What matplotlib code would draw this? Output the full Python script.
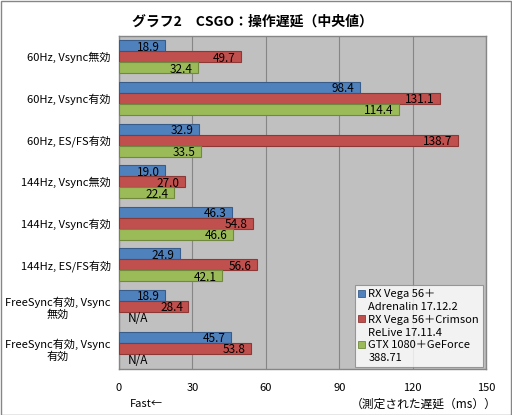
import numpy as np
import matplotlib
matplotlib.use("Agg")
import matplotlib.pyplot as plt
from matplotlib.patches import Patch, Rectangle

plt.rcParams['font.family'] = ['Noto Sans CJK JP', 'DejaVu Sans']

# データ
categories = ["60Hz, Vsync無効", "60Hz, Vsync有効", "60Hz, ES/FS有効",
              "144Hz, Vsync無効", "144Hz, Vsync有効", "144Hz, ES/FS有効",
              "FreeSync有効, Vsync\n無効", "FreeSync有効, Vsync\n有効"]
vega_adrenalin = [18.9, 98.4, 32.9, 19.0, 46.3, 24.9, 18.9, 45.7]
vega_crimson = [49.7, 131.1, 138.7, 27.0, 54.8, 56.6, 28.4, 53.8]
gtx1080 = [32.4, 114.4, 33.5, 22.4, 46.6, 42.1, None, None]
series_labels = [("RX Vega 56＋", "Adrenalin 17.12.2"),
                 ("RX Vega 56＋Crimson", "ReLive 17.11.4"),
                 ("GTX 1080＋GeForce", "388.71")]
xticks = [0, 30, 60, 90, 120, 150]

colors = ["#4F81BD", "#C0504D", "#9BBB59"]
edges = ["#385D8A", "#8C3836", "#71893F"]

fig = plt.figure(figsize=(5.12, 4.15), dpi=100, facecolor='white')
ax = fig.add_axes([119/512, 1-369/415, (486-119)/512, (369-36)/415])
ax.set_facecolor('#C0C0C0')

y = np.arange(len(categories))
h = 0.264
allseries = [vega_adrenalin, vega_crimson, gtx1080]
for k, vals in enumerate(allseries):
    pos = y + (k - 1) * h
    for yi, v in zip(pos, vals):
        if v is None:
            ax.annotate("N/A", xy=(0, yi), xytext=(6, -1), textcoords='offset points',
                        ha='left', va='center', fontsize=8.5)
            continue
        ax.barh(yi, v, height=h, color=colors[k], edgecolor=edges[k], linewidth=0.8, zorder=3)
        ax.annotate(f"{v:.1f}", xy=(v, yi), xytext=(-4, -1), textcoords='offset points',
                    ha='right', va='center', fontsize=8.5, zorder=4)

ax.set_xlim(0, 150)
ax.set_ylim(len(categories) - 0.5, -0.5)
ax.set_xticks(xticks)
ax.set_xticklabels([str(t) for t in xticks], fontsize=8)
ax.set_yticks(y)
ax.set_yticklabels(categories, fontsize=8, multialignment='center')
ax.tick_params(length=0, pad=6)
ax.tick_params(axis='x', pad=10)
ax.grid(axis='x', color='#868686', linewidth=0.8, zorder=1)
for s in ax.spines.values():
    s.set_color('#868686')
    s.set_linewidth(1)

fig.text(252/512, 1-22/415, "グラフ2　CSGO：操作遅延（中央値）", ha='center', va='center',
         fontsize=10, fontweight='bold')
fig.text(130/512, 1-404/415, "Fast←", ha='left', va='center', fontsize=8)
fig.text(497/512, 1-404/415, "（測定された遅延（ms））", ha='right', va='center', fontsize=8.5)

handles, labels = [], []
for k, (l1, l2) in enumerate(series_labels):
    handles.append(Patch(facecolor=colors[k], edgecolor=edges[k], linewidth=0.6))
    labels.append(l1)
    handles.append(Patch(facecolor='none', edgecolor='none'))
    labels.append(l2)
leg = fig.legend(handles, labels, loc='lower right', bbox_to_anchor=(483/512, 1-367/415),
                 bbox_transform=fig.transFigure, borderaxespad=0, fontsize=8,
                 handlelength=0.6, handleheight=0.6, handletextpad=0.3,
                 labelspacing=0.25, borderpad=0.35, frameon=True, fancybox=False)
leg.get_frame().set_edgecolor('#868686')
leg.get_frame().set_linewidth(0.8)

fig.patches.append(Rectangle((0.001, 0.001), 0.997, 0.997, transform=fig.transFigure,
                             fill=False, edgecolor='#868686', linewidth=1))

fig.savefig("out.png", dpi=100)
